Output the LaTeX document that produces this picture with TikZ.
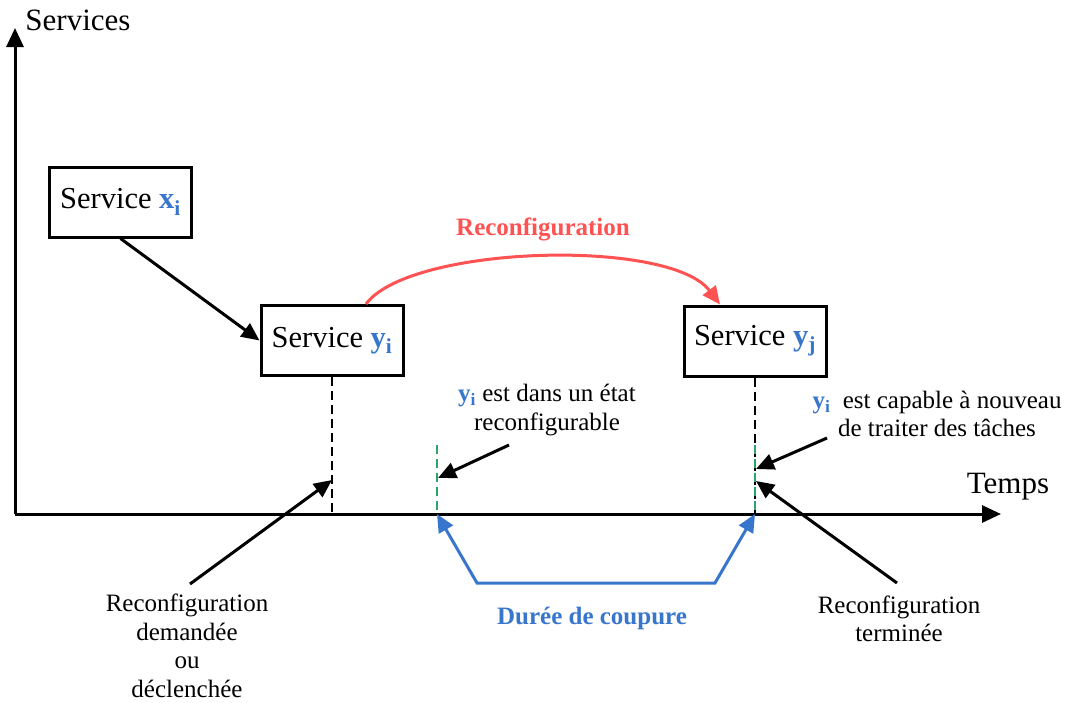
\documentclass[tikz,border=0pt]{standalone}
\usepackage{fontspec}
\setmainfont{Liberation Serif}
\usetikzlibrary{arrows.meta,calc}
\definecolor{recred}{RGB}{255,82,82}
\definecolor{varblue}{RGB}{56,118,206}
\definecolor{markgreen}{RGB}{40,165,105}
\newcommand{\varb}[2]{{\color{varblue}\textbf{#1\textsubscript{#2}}}}
\tikzset{
  axis/.style={line width=3pt,-{Triangle[length=19pt,width=17pt]}},
  servicebox/.style={draw,line width=3pt,minimum width=142pt,minimum height=70pt,inner sep=0pt,font=\fontsize{30.5}{34}\selectfont},
  link/.style={line width=3pt,-{Triangle[length=18pt,width=16pt]}},
  tick/.style={line width=1.8pt,dash pattern=on 9pt off 5pt},
  marker/.style={line width=1.8pt,markgreen,dash pattern=on 9pt off 5pt},
  note/.style={align=center,font=\fontsize{25}{28.5}\selectfont},
  axislabel/.style={font=\fontsize{31}{34}\selectfont}
}
\begin{document}
\begin{tikzpicture}[x=1pt,y=-1pt]
\useasboundingbox (0,0) rectangle (1069,702);

% axes
\coordinate (O) at (15,514);
\coordinate (ytip) at (15,28);
\coordinate (xtip) at (1001,514);
\draw[axis] (O) -- (ytip);
\draw[axis] (O) -- (xtip);
\node[axislabel] (lserv) at (78,20) {Services};
\node[axislabel] (ltemps) at (1008,487) {Temps};

% services
\node[servicebox] (xi) at (120.5,202) {Service \varb{x}{i}};
\node[servicebox] (yi) at (332,340.5) {Service \varb{y}{i}};
\node[servicebox] (yj) at (755,341) {Service \varb{y}{j}};
\draw[link] (xi.south) -- (yi.west);

% reconfiguration arc
\draw[line width=3pt,recred,-{Triangle[length=18pt,width=16pt]}]
  ([xshift=34pt]yi.north) .. controls (410,245) and (670,238) .. ([xshift=-35pt]yj.north);
\node[font=\fontsize{25}{28}\selectfont\bfseries,text=recred] (lrec) at (543,229) {Reconfiguration};

% time marks
\coordinate (yibase) at (yi.south |- O);
\coordinate (yjbase) at (yj.south |- O);
\coordinate (gtop) at (437,445);
\coordinate (gbase) at (437,514);
\coordinate (gjtop) at (755,445);
\draw[tick] (yi.south) -- (yibase);
\draw[tick] (yj.south) -- (yjbase);
\draw[marker] (gtop) -- (gbase);
\draw[marker] (gjtop) -- (yjbase);

% notes
\node[note] (nstate) at (547,410) {\varb{y}{i} est dans un état\\reconfigurable};
\node[note] (ncap) at (937,414) {\varb{y}{i}\ \ est capable à nouveau\\de traiter des tâches};
\node[note] (ndem) at (187,646) {Reconfiguration\\demandée\\ou\\déclenchée};
\node[note] (nterm) at (899,619) {Reconfiguration\\terminée};

\coordinate (astate) at (438,478);
\coordinate (acap) at (756,469);
\coordinate (aterm) at (756,481);
\coordinate (adem) at (332,480);
\draw[link] (509,445) -- (astate);
\draw[link] (827,438) -- (acap);
\draw[link] (897,583) -- (aterm);
\draw[link] (190,584) -- (adem);

% outage duration
\coordinate (dc1) at (477,583);
\coordinate (dc2) at (715,583);
\draw[line width=3pt,varblue,{Triangle[length=18pt,width=16pt]}-{Triangle[length=18pt,width=16pt]}]
  (gbase) -- (dc1) -- (dc2) -- (yjbase);
\node[font=\fontsize{25}{28}\selectfont\bfseries,text=varblue] (ldur) at (592,618) {Durée de coupure};
\end{tikzpicture}
\end{document}
